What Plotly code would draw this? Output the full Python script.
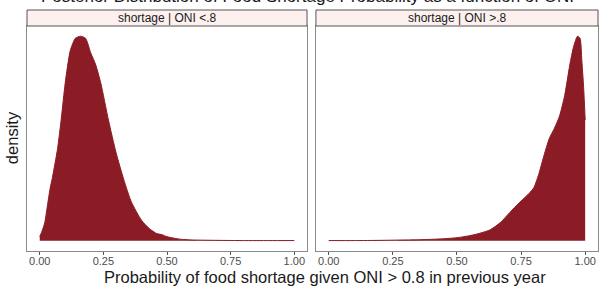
import plotly.graph_objects as go

# ---- data ----
panel_titles = ["shortage | ONI <.8", "shortage | ONI >.8"]

left_x = [0.00, 0.01, 0.02, 0.03, 0.04, 0.05, 0.07, 0.085, 0.10, 0.12, 0.14, 0.16, 0.18,
          0.20, 0.22, 0.24, 0.27, 0.30, 0.33, 0.36, 0.40, 0.43, 0.46, 0.48, 0.50, 0.55,
          0.60, 0.70, 0.80, 0.90, 1.00]
left_y = [0.02, 0.05, 0.09, 0.17, 0.25, 0.31, 0.45, 0.60, 0.77, 0.93, 0.99, 1.00, 0.99,
          0.92, 0.86, 0.77, 0.59, 0.43, 0.30, 0.19, 0.10, 0.06, 0.035, 0.03, 0.02, 0.008,
          0.004, 0.002, 0.001, 0.001, 0.001]

right_x = [0.00, 0.10, 0.20, 0.25, 0.30, 0.35, 0.40, 0.45, 0.50, 0.55, 0.59, 0.63, 0.67,
           0.70, 0.73, 0.755, 0.78, 0.80, 0.82, 0.84, 0.86, 0.88, 0.90, 0.92, 0.94, 0.955,
           0.97, 0.98, 0.987, 0.994, 1.00]
right_y = [0.001, 0.001, 0.002, 0.003, 0.004, 0.005, 0.007, 0.010, 0.015, 0.025, 0.037,
           0.054, 0.09, 0.13, 0.17, 0.20, 0.23, 0.26, 0.33, 0.42, 0.50, 0.55, 0.61, 0.71,
           0.86, 0.95, 1.00, 0.99, 0.88, 0.75, 0.59]

x_ticks = [0.0, 0.25, 0.5, 0.75, 1.0]
x_tick_labels = ["0.00", "0.25", "0.50", "0.75", "1.00"]

FILL = "#8B1C25"
FONT = "Liberation Sans, Arial, sans-serif"

fig = go.Figure()
fig.add_trace(go.Scatter(x=left_x, y=left_y, mode="lines", fill="tozeroy",
                         line=dict(color=FILL, width=1, shape="spline", smoothing=0.6),
                         fillcolor=FILL, xaxis="x", yaxis="y", hoverinfo="skip"))
fig.add_trace(go.Scatter(x=right_x, y=right_y, mode="lines", fill="tozeroy",
                         line=dict(color=FILL, width=1, shape="spline", smoothing=0.6),
                         fillcolor=FILL, xaxis="x2", yaxis="y2", hoverinfo="skip"))

d1 = [0.0, 0.4904]
d2 = [0.506, 1.0]
ydom = [0.0, 0.9336]

xcommon = dict(range=[-0.05, 1.05], tickvals=x_ticks, ticktext=x_tick_labels,
               ticks="outside", ticklen=3, tickcolor="#555", tickwidth=1,
               ticklabelstandoff=-3,
               showgrid=False, zeroline=False, showline=True, mirror=True,
               linecolor="#8a8a8a", linewidth=1,
               tickfont=dict(family=FONT, size=11, color="#4d4d4d"))
ycommon = dict(range=[-0.05, 1.05], showticklabels=False, ticks="", showgrid=False,
               zeroline=False, showline=True, mirror=True, linecolor="#8a8a8a",
               linewidth=1, domain=ydom)

fig.update_layout(
    width=601, height=289,
    margin=dict(l=27, r=3, t=10, b=38),
    paper_bgcolor="white", plot_bgcolor="white",
    showlegend=False,
    xaxis=dict(domain=d1, anchor="y", **xcommon),
    xaxis2=dict(domain=d2, anchor="y2", **xcommon),
    yaxis=dict(anchor="x", **ycommon),
    yaxis2=dict(anchor="x2", **ycommon),
)

# strips
for dom, title in zip([d1, d2], panel_titles):
    fig.add_shape(type="rect", xref="paper", yref="paper", x0=dom[0], x1=dom[1],
                  y0=ydom[1], y1=1.0, fillcolor="#FCF1EF",
                  line=dict(color="#555555", width=1), layer="above")
    fig.add_annotation(text=title, xref="paper", yref="paper", x=(dom[0] + dom[1]) / 2,
                       y=(ydom[1] + 1.0) / 2, showarrow=False, xanchor="center",
                       yanchor="middle", font=dict(family=FONT, size=12, color="#1a1a1a"))

# axis titles and (clipped) main title
fig.add_annotation(text="Probability of food shortage given ONI > 0.8 in previous year",
                   xref="paper", yref="paper", x=0.522, y=-0.108, showarrow=False,
                   xanchor="center", yanchor="middle",
                   font=dict(family=FONT, size=16.5, color="#1a1a1a"))
fig.add_annotation(text="density", xref="paper", yref="paper", x=-0.026, y=0.469,
                   textangle=-90, showarrow=False, xanchor="center", yanchor="middle",
                   font=dict(family=FONT, size=16.5, color="#1a1a1a"))
fig.add_annotation(text="Posterior Distribution of Food Shortage Probability as a function of ONI",
                   xref="paper", yref="paper", x=0.491, y=1.054, showarrow=False,
                   xanchor="center", yanchor="middle",
                   font=dict(family=FONT, size=17, color="#1a1a1a"))

fig.write_html("out.html", config={"displayModeBar": False},
               post_script="document.body.style.margin='0';document.body.style.overflow='hidden';")
